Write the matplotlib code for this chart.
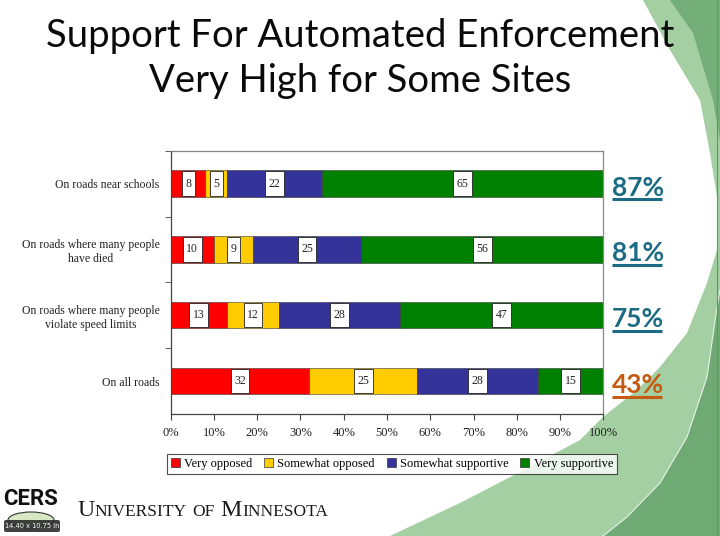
import numpy as np
import matplotlib
matplotlib.use('Agg')
import matplotlib.pyplot as plt
from matplotlib.patches import Polygon, Patch, FancyBboxPatch, Ellipse, Rectangle
from matplotlib.ticker import FixedLocator
import matplotlib.transforms as mtrans

# data
categories = ['On roads near schools',
              'On roads where many people\nhave died',
              'On roads where many people\nviolate speed limits',
              'On all roads']
very_opposed = [8, 10, 13, 32]
somewhat_opposed = [5, 9, 12, 25]
somewhat_supportive = [22, 25, 28, 28]
very_supportive = [65, 56, 47, 15]
series_names = ['Very opposed', 'Somewhat opposed', 'Somewhat supportive', 'Very supportive']
series_colors = ['#ff0000', '#ffcc00', '#333399', '#008000']
support_totals = ['87%', '81%', '75%', '43%']
total_colors = ['#1c6b85', '#1c6b85', '#1c6b85', '#c55a11']
x_ticks = [0, 10, 20, 30, 40, 50, 60, 70, 80, 90, 100]

serif = 'Liberation Serif'

fig = plt.figure(figsize=(7.2, 5.36), dpi=100)
fig.patch.set_facecolor('white')
renderer = fig.canvas.get_renderer()

# background decoration in pixel coordinates
bg = fig.add_axes([0, 0, 1, 1], zorder=-10)
bg.set_xlim(0, 720)
bg.set_ylim(536, 0)
bg.axis('off')
light = [(643, 0), (670, 50), (700, 100), (710, 153), (718, 203), (717, 250), (707, 283),
         (687, 333), (660, 367), (637, 390), (603, 417), (580, 440), (550, 456), (520, 472),
         (460, 503), (390, 536), (720, 536), (720, 0)]
bg.add_patch(Polygon(light, closed=True, facecolor='#a3cfa3', edgecolor='none'))
dark_top = [(670, 0), (693, 33), (713, 100), (720, 140), (720, 0)]
bg.add_patch(Polygon(dark_top, closed=True, facecolor='#74ae79', edgecolor='none'))
dark_bot = [(720, 290), (717, 307), (707, 377), (687, 437), (660, 483), (627, 517),
            (603, 536), (720, 536)]
bg.add_patch(Polygon(dark_bot, closed=True, facecolor='#6faa74', edgecolor='none'))
bx, by = zip(*dark_bot[:-1])
bg.plot(bx, by, color='#e6f2e6', lw=0.8)
bg.plot([717, 717], [0, 536], color='#5f9a64', lw=0.8)

# title
bg.text(360, 47, 'Support For Automated Enforcement', ha='center', va='baseline',
        fontsize=27.5, family='Lato', color='#0a0a0a')
bg.text(360, 92, 'Very High for Some Sites', ha='center', va='baseline',
        fontsize=27.5, family='Lato', color='#0a0a0a')

# logo area
bg.text(31, 505, 'CERS', ha='center', va='baseline', fontsize=16, family='Roboto',
        weight='bold', color='#111111')
bg.add_patch(Ellipse((31, 520), 46, 16, facecolor='#d9e8c4', edgecolor='#333333', lw=0.8))
bg.add_patch(FancyBboxPatch((4, 520), 56, 12, boxstyle='round,pad=0,rounding_size=2',
                            facecolor='#2b2b2b', edgecolor='none', alpha=0.9))
bg.text(32, 526.5, '14.40 x 10.75 in', ha='center', va='center', fontsize=4.8,
        color='white')

pieces = [('U', 17.2), ('NIVERSITY', 12.5), (' ', 12.5), ('OF', 12.5), (' ', 12.5),
          ('M', 17.2), ('INNESOTA', 12.5)]
xpos = 77
for txt, fs in pieces:
    if txt == ' ':
        xpos += 5
        continue
    t = bg.text(xpos, 516, txt, ha='left', va='baseline', fontsize=fs, family=serif,
                color='#1a1a1a')
    xpos = t.get_window_extent(renderer).x1 + 0.5

# chart
ax = fig.add_axes([0.2371, 0.2276, 0.6008, 0.4912])
ax_w_px = 0.6008 * 720
y = np.arange(len(categories))
left = np.zeros(len(categories))
for vals, name, col in zip([very_opposed, somewhat_opposed, somewhat_supportive, very_supportive],
                           series_names, series_colors):
    vals = np.array(vals)
    ax.barh(y, vals, left=left, height=0.4, color=col, edgecolor='#333333', lw=0.4,
            label=name)
    for yi, l, v in zip(y, left, vals):
        t = ax.text(l + v / 2, yi, str(v), ha='center', va='center', fontsize=8.5,
                    family=serif, color='#222222', zorder=5)
        w = (t.get_window_extent(renderer).width + 7) / ax_w_px * 100
        ax.add_patch(Rectangle((l + v / 2 - w / 2, yi - 0.185), w, 0.37, facecolor='white',
                               edgecolor='#222222', lw=0.6, zorder=4))
    left = left + vals

ax.set_xlim(0, 100)
ax.set_ylim(len(categories) - 0.5, -0.5)
ax.set_xticks(x_ticks)
ax.set_xticklabels([f'{v}%' for v in x_ticks], family=serif, fontsize=9, color='#222222')
ax.set_yticks(y)
ax.set_yticklabels(categories, family=serif, fontsize=8.5, color='#222222',
                   multialignment='center')
ax.yaxis.set_minor_locator(FixedLocator(np.arange(-0.5, len(categories) - 0.5, 1)))
ax.tick_params(axis='y', which='major', length=0, pad=8)
ax.tick_params(axis='y', which='minor', length=4, color='#444444', direction='out')
ax.tick_params(axis='x', length=4, color='#444444', direction='out', pad=5)
for s in ['left', 'bottom']:
    ax.spines[s].set_color('#444444')
    ax.spines[s].set_linewidth(0.9)
for s in ['top', 'right']:
    ax.spines[s].set_color('#888888')
    ax.spines[s].set_linewidth(0.9)

# totals on the right
trans = mtrans.blended_transform_factory(ax.transAxes, ax.transData)
for yi, lab, col in zip(y, support_totals, total_colors):
    ax.text(1.02, yi + 0.06, lab, transform=trans, ha='left', va='center', fontsize=19,
            family='Lato', weight='bold', color=col, clip_on=False)
    ax.plot([1.02, 1.136], [yi + 0.24, yi + 0.24], transform=trans, color=col, lw=2.2,
            clip_on=False, solid_capstyle='butt')

handles = [Patch(facecolor=c, edgecolor='#333333', lw=0.5) for c in series_colors]
leg = fig.legend(handles, series_names, loc='center', bbox_to_anchor=(392 / 720, 1 - 464 / 536),
                 ncol=4, frameon=True, fancybox=False, edgecolor='#222222',
                 prop={'family': serif, 'size': 9}, handlelength=0.7, handleheight=0.7,
                 handletextpad=0.35, columnspacing=0.95, borderpad=0.3)
leg.get_frame().set_linewidth(0.8)

fig.savefig('out.png', dpi=100, facecolor='white')
